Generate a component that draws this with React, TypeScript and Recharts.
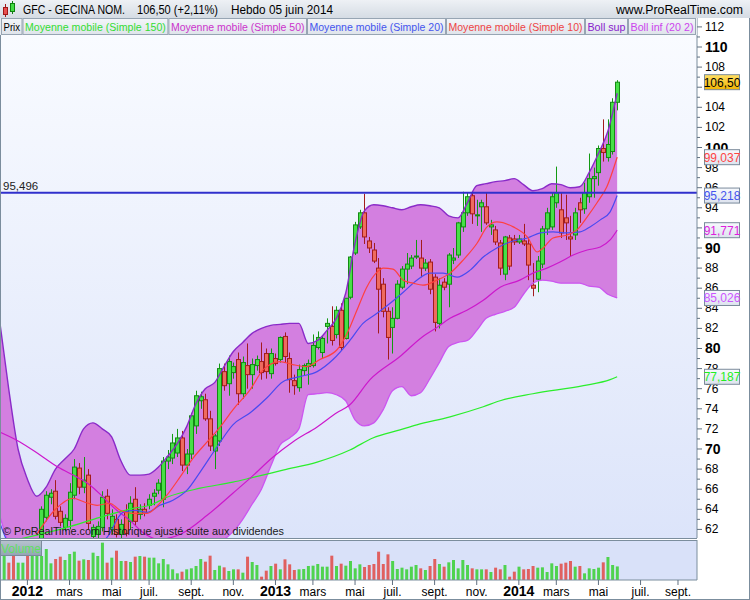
import React from "react";
import { ComposedChart, Bar, Line, Area, XAxis, YAxis, ReferenceLine, Cell } from "recharts";

// week index 0 = semaine du 2 janvier 2012 (hebdo)
const FIRST_WEEK = -5;
const X_DOMAIN: [number, number] = [-5.64, 143.06];
const PRICE_DOMAIN: [number, number] = [61.144, 112.886];

const MONTH_TICKS = [0, 9, 18, 26, 35, 44, 53, 61, 70, 78, 87, 96, 105, 113, 122, 131, 139];
const MONTH_LABELS = ["2012", "mars", "mai", "juil.", "sept.", "nov.", "2013", "mars", "mai", "juil.", "sept.", "nov.", "2014", "mars", "mai", "juil.", "sept."];
const PRICE_TICKS = [61, 62, 63, 64, 65, 66, 67, 68, 69, 70, 71, 72, 73, 74, 75, 76, 77, 78, 79, 80, 81, 82, 83, 84, 85, 86, 87, 88, 89, 90, 91, 92, 93, 94, 95, 96, 97, 98, 99, 100, 101, 102, 103, 104, 105, 106, 107, 108, 109, 110, 111, 112];
// tick labels that sit completely under a value box
const HIDDEN_TICKS = [106, 92];

// last values shown in the boxes on the price axis
const BOX_VALUES = [106.5, 99.037, 95.218, 91.771, 85.026, 77.187];
const BOX_TEXTS = ["106,50", "99,037", "95,218", "91,771", "85,026", "77,187"];
const BOX_COLORS = ["#000000", "#ff4444", "#4455ee", "#dd22dd", "#cc55ff", "#22ee22"];

// [open, high, low, close]
const CANDLES = [
  [59.5, 60.5, 58.6, 60.2], [60.2, 60.6, 58.8, 59.0], [59.0, 59.6, 57.6, 58.0], [58.0, 59.6, 57.6, 59.3],
  [59.3, 60.6, 58.8, 60.2], [60.4, 60.8, 59.2, 59.6], [59.6, 60.8, 59.2, 60.5], [60.3, 60.9, 59.6, 60.6],
  [60.6, 64.3, 60.4, 64.0], [63.2, 65.8, 62.8, 65.4], [65.2, 66.0, 64.5, 65.6], [65.8, 66.9, 63.0, 63.3],
  [63.8, 64.3, 62.3, 62.7], [62.2, 63.5, 61.8, 63.1], [62.9, 66.6, 62.0, 65.7], [65.4, 69.0, 65.0, 68.2],
  [68.1, 68.6, 65.5, 66.2], [66.2, 69.2, 65.6, 66.9], [67.4, 68.0, 62.0, 62.6], [61.3, 62.5, 60.8, 62.2],
  [61.5, 62.8, 61.0, 62.3], [62.2, 65.8, 61.8, 65.2], [65.3, 66.0, 63.0, 63.6], [62.0, 64.0, 61.5, 63.3],
  [63.0, 63.5, 61.2, 61.5], [61.5, 63.0, 61.0, 62.5], [63.8, 64.5, 61.3, 61.6], [62.8, 65.3, 62.0, 64.6],
  [65.0, 66.2, 62.4, 62.8], [63.5, 64.5, 63.0, 64.0], [64.0, 64.6, 63.3, 63.6], [64.4, 65.5, 64.0, 65.0],
  [65.3, 66.0, 64.4, 65.6], [65.9, 67.0, 65.5, 66.6], [65.0, 69.2, 64.2, 68.8], [68.8, 69.9, 68.0, 69.2],
  [69.1, 71.5, 68.5, 70.6], [69.6, 72.0, 69.2, 71.1], [71.1, 71.8, 67.8, 68.4], [68.4, 70.0, 67.5, 69.5],
  [69.5, 73.6, 69.0, 73.3], [72.3, 75.8, 71.5, 75.3], [74.8, 75.7, 74.0, 75.2], [74.9, 75.5, 72.8, 73.0],
  [73.0, 73.8, 69.8, 70.3], [69.8, 71.5, 68.0, 71.3], [70.8, 78.5, 70.3, 78.0], [77.7, 78.5, 75.8, 76.3],
  [76.5, 79.3, 75.3, 78.7], [77.6, 78.6, 77.0, 78.2], [78.9, 79.6, 74.4, 75.5], [75.5, 79.2, 75.0, 78.6],
  [78.3, 80.5, 76.0, 77.4], [77.4, 79.0, 76.0, 78.4], [78.3, 79.3, 77.8, 78.9], [78.7, 80.6, 76.9, 77.6],
  [79.5, 80.0, 77.0, 77.7], [77.5, 80.0, 77.0, 79.5], [79.0, 79.5, 78.3, 78.5], [78.9, 81.2, 78.6, 81.1],
  [81.2, 81.6, 78.6, 79.2], [79.0, 79.6, 75.6, 76.9], [76.8, 77.4, 75.4, 76.3], [76.1, 78.4, 75.7, 77.9],
  [77.8, 78.5, 77.3, 78.3], [78.2, 78.9, 76.4, 78.5], [78.3, 81.4, 78.1, 80.3], [80.1, 81.7, 79.9, 81.1],
  [79.6, 81.3, 79.0, 81.0], [82.2, 83.0, 80.5, 82.5], [82.2, 84.2, 80.3, 80.8], [81.4, 84.2, 81.0, 83.8],
  [83.8, 84.5, 79.8, 80.1], [81.0, 85.0, 80.9, 85.0], [85.1, 89.2, 84.9, 89.1], [89.5, 92.6, 89.3, 92.3],
  [92.1, 93.8, 91.9, 93.5], [93.5, 95.4, 90.4, 91.1], [90.7, 91.1, 89.5, 90.0], [89.8, 90.5, 88.5, 88.7],
  [88.0, 89.0, 81.5, 85.9], [86.4, 87.0, 83.1, 83.7], [83.7, 84.1, 78.9, 81.1], [82.1, 84.1, 79.5, 83.0],
  [83.0, 86.8, 82.9, 86.4], [86.1, 88.2, 85.9, 87.9], [87.9, 89.5, 86.4, 88.4], [88.2, 89.3, 87.9, 89.0],
  [89.1, 90.8, 88.9, 89.2], [89.0, 90.8, 87.1, 88.0], [88.0, 88.9, 87.7, 88.5], [88.6, 88.9, 85.4, 85.9],
  [87.1, 87.4, 81.7, 82.6], [82.5, 87.0, 82.0, 86.3], [86.6, 87.0, 85.8, 86.1], [86.4, 89.5, 84.1, 89.3],
  [88.8, 90.0, 88.4, 89.0], [89.3, 92.6, 89.0, 92.5], [92.1, 95.6, 91.6, 93.5], [93.5, 95.5, 93.2, 95.1],
  [95.2, 95.5, 92.4, 93.4], [93.2, 94.8, 92.2, 93.3], [94.1, 94.8, 91.6, 94.5], [94.1, 95.5, 92.3, 92.5],
  [92.1, 92.8, 91.3, 92.3], [91.8, 92.2, 90.3, 90.6], [90.5, 90.8, 87.3, 88.0], [87.4, 91.2, 86.8, 91.1],
  [91.0, 91.3, 87.8, 88.2], [90.9, 91.3, 90.3, 90.6], [90.6, 91.3, 90.4, 90.9], [90.7, 92.4, 90.2, 90.4],
  [90.4, 91.0, 86.8, 88.3], [86.3, 88.5, 85.2, 86.0], [86.9, 89.2, 85.6, 88.7], [88.4, 92.2, 88.0, 91.9],
  [91.9, 94.0, 91.3, 93.5], [92.1, 95.5, 91.8, 95.1], [94.5, 98.1, 94.0, 95.5], [93.8, 95.5, 91.0, 91.5],
  [93.0, 95.3, 90.8, 92.5], [91.1, 93.2, 89.2, 90.9], [91.3, 94.0, 90.8, 93.5], [94.5, 95.0, 92.5, 93.8],
  [93.9, 96.5, 93.4, 95.5], [95.1, 99.4, 94.5, 96.9], [96.9, 98.0, 95.0, 97.1], [97.5, 100.2, 96.2, 99.9],
  [99.9, 102.8, 98.6, 99.5], [99.0, 102.8, 98.6, 100.3], [99.6, 104.9, 99.3, 104.5], [104.5, 106.7, 103.7, 106.5],
];

const VOLUME = [
  375000, 260000, 360000, 260000, 260000, 385000, 385000, 385000, 360000, 465000,
  250000, 315000, 350000, 300000, 390000, 425000, 290000, 310000, 300000, 410000,
  360000, 560000, 260000, 335000, 440000, 285000, 285000, 270000, 350000, 360000,
  350000, 335000, 335000, 250000, 315000, 235000, 160000, 100000, 125000, 160000,
  175000, 210000, 315000, 275000, 365000, 150000, 215000, 190000, 135000, 160000,
  160000, 110000, 350000, 270000, 225000, 50000, 140000, 210000, 245000, 160000,
  310000, 235000, 150000, 160000, 165000, 210000, 215000, 240000, 200000, 200000,
  365000, 210000, 245000, 215000, 285000, 175000, 235000, 195000, 225000, 240000,
  425000, 240000, 385000, 285000, 165000, 185000, 160000, 200000, 225000, 175000,
  150000, 210000, 315000, 240000, 200000, 265000, 300000, 175000, 300000, 225000,
  175000, 160000, 160000, 160000, 120000, 185000, 160000, 225000, 50000, 125000,
  200000, 160000, 165000, 210000, 185000, 190000, 120000, 250000, 210000, 245000,
  260000, 285000, 200000, 210000, 100000, 175000, 165000, 185000, 265000, 345000,
  225000, 203572,
];
const LAST_VOLUME = 203572;

// Bandes de Bollinger (20, 2)
const BAND_WEEKS = [-6, -4, -2, 0, 2, 4, 6, 8, 10, 12, 14, 16, 18, 20, 22, 24, 26, 28, 30, 32, 34, 36, 38, 40, 42, 44, 46, 48, 50, 52, 54, 56, 58, 60, 62, 64, 66, 68, 70, 72, 74, 76, 78, 80, 82, 84, 86, 88, 90, 92, 94, 96, 98, 100, 102, 104, 106, 108, 110, 112, 114, 116, 118, 120, 122, 124, 126];
const BOLL_SUP = [83, 76.0, 70.0, 67.0, 65.3, 66.2, 68.0, 69.0, 70.0, 72.0, 72.6, 72.0, 71.2, 68.8, 67.4, 67.4, 67.5, 68.2, 69.3, 70.5, 72.2, 74.5, 76.0, 76.6, 78.2, 79.7, 80.6, 81.5, 82.0, 82.3, 82.4, 82.5, 82.5, 80.5, 80.8, 81.8, 83.0, 85.5, 90.5, 93.7, 94.3, 94.2, 94.0, 93.8, 94.1, 94.3, 94.2, 94.0, 93.2, 93.0, 94.5, 96.2, 96.4, 96.6, 96.7, 96.9, 96.3, 95.7, 95.9, 96.4, 96.3, 96.0, 96.1, 97.5, 99.4, 101.6, 105.4];
const BOLL_INF = [63.5, 60.5, 58.0, 57.0, 57.0, 57.5, 58.0, 58.5, 58.5, 58.0, 57.0, 56.5, 56.5, 57.5, 58.5, 59.5, 60.0, 60.5, 60.5, 60.0, 59.5, 59.5, 60.0, 60.5, 61.0, 61.8, 63.0, 64.5, 66.0, 68.3, 70.4, 71.1, 72.0, 75.4, 75.5, 75.6, 75.4, 74.8, 72.9, 72.3, 72.6, 73.9, 75.8, 76.2, 75.3, 75.6, 77.0, 78.6, 80.2, 80.6, 80.8, 81.8, 83.0, 83.4, 83.7, 84.1, 85.4, 86.5, 86.8, 86.7, 86.5, 86.5, 86.5, 86.2, 86.1, 85.4, 85.03];

// moyennes mobiles, [semaine, valeur]
const MA150 = [[-6, 60.6], [8.5, 62.2], [15.5, 63.2], [22.6, 64.1], [26.2, 64.4], [29.8, 65.2], [36.9, 66.1], [43.9, 66.7], [47.6, 67.1], [54.6, 67.9], [61.9, 68.7], [68.9, 69.9], [73.8, 71.1], [79.6, 71.9], [83.2, 72.4], [90.3, 73.2], [97.4, 74.2], [101, 74.8], [108, 75.5], [118.8, 76.3], [124.5, 76.9], [126, 77.187]];
const MA50 = [[-6, 71.7], [-1.6, 70.7], [2.7, 69.4], [6.5, 68.2], [10.6, 67.2], [13.4, 66.4], [16.2, 65.2], [19.1, 63.9], [21.9, 62.9], [24.7, 61.7], [28, 61.0], [33, 61.6], [38.4, 63.4], [43.9, 65.6], [47.6, 67.1], [52.5, 69.2], [56.7, 70.7], [61.9, 72.2], [66.1, 73.6], [68.9, 74.4], [73.2, 76.9], [79.6, 79.2], [84.5, 81.2], [87.5, 82.1], [90.3, 83.0], [93.9, 83.8], [97.4, 84.8], [101, 86.1], [105.2, 86.8], [108, 87.5], [111, 88.0], [113.8, 88.6], [116.6, 89.3], [119.6, 89.8], [122.4, 90.1], [124.5, 90.8], [126, 91.771]];
const MA20 = [[-6, 62.8], [-4.5, 61.0], [-2, 59.8], [6, 59.5], [14, 60.3], [17, 61.2], [20.4, 63.7], [23, 63.9], [25.6, 63.7], [28.3, 64.4], [31.1, 64.9], [34.1, 65.9], [36.9, 67.7], [40.5, 70.2], [43.9, 72.4], [47.6, 73.6], [51.2, 75.1], [54.6, 76.7], [58.2, 77.2], [61.9, 77.7], [65.3, 78.9], [68.9, 80.8], [71.7, 82.5], [74.7, 83.5], [77.5, 84.5], [80.3, 85.6], [83.2, 86.8], [86, 87.5], [88.8, 87.5], [91.8, 87.1], [94.6, 87.8], [97.4, 89.1], [100.3, 90.0], [103.1, 90.6], [106.8, 91.0], [109.6, 91.5], [112.3, 91.6], [115.3, 91.5], [118.1, 91.6], [120.2, 92.1], [122.4, 92.8], [124.5, 93.6], [126, 95.218]];
const MA10 = [[2, 61.5], [6, 64.0], [9.7, 65.1], [12.3, 64.7], [14.9, 64.4], [17.6, 64.6], [19.8, 63.9], [22.4, 63.6], [25.6, 63.6], [27.9, 64.4], [29.8, 65.4], [32.6, 67.2], [35.4, 69.1], [38.4, 70.7], [41.2, 72.2], [43.9, 73.9], [47.6, 75.9], [50.4, 77.9], [54, 78.7], [56.7, 78.4], [59.7, 78.2], [62.5, 78.9], [66.2, 79.9], [68.3, 81.5], [70.4, 83.8], [72.5, 86.1], [74.7, 87.6], [76, 88.0], [78.1, 87.9], [80.3, 86.8], [82.4, 86.5], [84.5, 86.3], [87.5, 86.8], [90.3, 87.5], [93.1, 88.8], [96.1, 90.5], [98.2, 92.1], [100.3, 92.6], [103.8, 92.1], [106.8, 91.1], [108.9, 89.6], [110.2, 90.0], [112.3, 91.0], [115.3, 91.3], [117.4, 91.8], [119.6, 93.1], [121.7, 94.5], [123.8, 96.1], [126, 99.037]];

const RESISTANCE = 95.496;

const FONT = '"Liberation Sans", Arial, sans-serif';
const AXIS = "#7b8d9d";

const candleData = CANDLES.map(([open, high, low, close], k) => ({
  week: FIRST_WEEK + k,
  open, high, low, close,
  span: [low, high],
  volume: VOLUME[k],
  up: close >= open,
}));

const bandData = BAND_WEEKS.map((week, k) => ({
  week,
  sup: BOLL_SUP[k],
  inf: BOLL_INF[k],
  band: [BOLL_INF[k], BOLL_SUP[k]],
}));

const pts = (pairs: number[][]) => pairs.map(([week, v]) => ({ week, v }));

const Candle = (props: any) => {
  const { x, y, width, height, payload } = props;
  if (!payload || x == null || y == null) return null;
  const { open, high, low, close, up } = payload;
  const top = height < 0 ? y + height : y;
  const h = Math.abs(height || 0);
  const span = high - low || 1;
  const py = (v: number) => top + ((high - v) / span) * h;
  const cx = Math.round(x + (width || 0) / 2) + 0.5;
  const b1 = py(Math.max(open, close));
  const b2 = py(Math.min(open, close));
  const edge = up ? "#148a14" : "#a31c1c";
  return (
    <g>
      <line x1={cx} x2={cx} y1={top} y2={top + h} stroke={up ? "#139a13" : "#a31c1c"} strokeWidth={1} />
      <rect x={cx - 2} y={b1} width={4} height={Math.max(1, b2 - b1)} fill={up ? "#47e047" : "#ef6b5f"} stroke={edge} strokeWidth={1} />
    </g>
  );
};

const PriceTick = (props: any) => {
  const { x, y, payload } = props;
  const v = payload.value;
  if (v % 2 !== 0) return <line x1={x} x2={x + 3} y1={y} y2={y} stroke="#607080" />;
  const major = v % 10 === 0;
  return (
    <g>
      <line x1={x} x2={x + 5} y1={y} y2={y} stroke="#607080" />
      {!HIDDEN_TICKS.includes(v) && (
        <text x={x + 8} y={y + (major ? 5 : 4)} fontSize={major ? 14 : 12} fontWeight={major ? 700 : 400} fill="#000" fontFamily={FONT}>{v}</text>
      )}
    </g>
  );
};

// drawn by a second, narrow price axis so the boxes sit above the tick labels
const BoxTick = (props: any) => {
  const { x, y, payload, index } = props;
  const k = BOX_VALUES.indexOf(payload.value);
  const i = k >= 0 ? k : index;
  const bx = x - 45;
  const gold = i === 0;
  return (
    <g>
      <rect x={bx + 0.5} y={y - 7.5} width={35} height={15} fill={gold ? "url(#gold)" : "url(#box)"} stroke="#7b8b9b" />
      <text x={bx + 18} y={y + 4.5} textAnchor="middle" fontSize={12} fill={BOX_COLORS[i]} fontFamily={FONT}>{BOX_TEXTS[i]}</text>
    </g>
  );
};

const VolumeTick = (props: any) => {
  const { x, y } = props;
  return (
    <g>
      <line x1={x} x2={x + 5} y1={y} y2={y} stroke="#607080" />
      <text x={x + 8} y={y + 4} fontSize={12} fill="#000" fontFamily={FONT}>500 000</text>
    </g>
  );
};

const VolumeBoxTick = (props: any) => {
  const { x, y } = props;
  const bx = x - 45;
  return (
    <g>
      <rect x={bx + 0.5} y={y - 7.5} width={40} height={15} fill="url(#box)" stroke="#7b8b9b" />
      <text x={bx + 20.5} y={y + 4.5} textAnchor="middle" fontSize={12} fill="#4ddd4d" fontFamily={FONT}>203 572</text>
    </g>
  );
};

const MonthTick = (props: any) => {
  const { x, y, payload } = props;
  const label = MONTH_LABELS[MONTH_TICKS.indexOf(payload.value)] ?? "";
  const year = /^\d{4}$/.test(label);
  return (
    <g>
      <line x1={x} x2={x} y1={y} y2={y + 5} stroke="#607080" />
      <text x={x} y={y + 16} textAnchor="middle" fontSize={year ? 14 : 12} fontWeight={year ? 700 : 400} fill="#000" fontFamily={FONT}>{label}</text>
    </g>
  );
};

const LevelLabel = (props: any) => {
  const { viewBox } = props;
  if (!viewBox) return null;
  return <text x={viewBox.x + 2} y={viewBox.y - 3} fontSize={11.5} fill="#222" fontFamily={FONT}>95,496</text>;
};

const LEGEND = [
  { x0: 1, x1: 22.5, text: "Prix", color: "#000" },
  { x0: 22.5, x1: 168.4, text: "Moyenne mobile (Simple 150)", color: "#33dd33" },
  { x0: 168.4, x1: 307, text: "Moyenne mobile (Simple 50)", color: "#cc33cc" },
  { x0: 307, x1: 446, text: "Moyenne mobile (Simple 20)", color: "#4455ee" },
  { x0: 446, x1: 585, text: "Moyenne mobile (Simple 10)", color: "#ee4444" },
  { x0: 585, x1: 628, text: "Boll sup", color: "#8822cc" },
  { x0: 628, x1: 696, text: "Boll inf (20 2)", color: "#cc44ee" },
];

const lineProps = { type: "monotone" as const, dataKey: "v", dot: false, activeDot: false, isAnimationActive: false, strokeWidth: 1.2 };

const Gradients = () => (
  <defs>
    <linearGradient id="gold" x1="0" y1="0" x2="0" y2="1">
      <stop offset="0" stopColor="#ffe066" />
      <stop offset="1" stopColor="#f0b400" />
    </linearGradient>
    <linearGradient id="box" x1="0" y1="0" x2="0" y2="1">
      <stop offset="0" stopColor="#f7f9fd" />
      <stop offset="1" stopColor="#dde3ee" />
    </linearGradient>
  </defs>
);

export default function App() {
  return (
    <div style={{ position: "absolute", left: 0, top: 0, width: 750, height: 600, background: "#fff", overflow: "hidden", fontFamily: FONT }}>
      <div style={{ position: "absolute", left: 1, top: 35, width: 696, height: 503, background: "linear-gradient(#f9fbff, #dce4fa)" }} />
      <div style={{ position: "absolute", left: 1, top: 540, width: 696, height: 40, background: "#d9e1f9" }} />

      <div style={{ position: "absolute", left: 0, top: 18 }}>
        <ComposedChart width={750} height={520} data={candleData} margin={{ top: 0, right: 0, bottom: 0, left: 1 }}>
          <Gradients />
          <XAxis dataKey="week" type="number" domain={X_DOMAIN} allowDataOverflow hide />
          <YAxis orientation="right" width={52} domain={PRICE_DOMAIN} allowDataOverflow ticks={PRICE_TICKS} interval={0}
            tick={<PriceTick />} tickLine={false} tickSize={0} tickMargin={0} axisLine={{ stroke: AXIS }} />
          <YAxis yAxisId="box" orientation="right" width={1} domain={PRICE_DOMAIN} allowDataOverflow ticks={BOX_VALUES} interval={0}
            tick={<BoxTick />} tickLine={false} tickSize={0} tickMargin={0} axisLine={false} />
          <Area data={bandData} dataKey="band" type="monotone" fill="#d37fe0" fillOpacity={1} stroke="none" isAnimationActive={false} activeDot={false} />
          <Line data={bandData} dataKey="sup" type="monotone" stroke="#8a2bc8" strokeWidth={1.4} dot={false} activeDot={false} isAnimationActive={false} />
          <Line data={bandData} dataKey="inf" type="monotone" stroke="#cc55f0" strokeWidth={1.3} dot={false} activeDot={false} isAnimationActive={false} />
          <Line data={pts(MA150)} stroke="#2bee2b" {...lineProps} />
          <Line data={pts(MA50)} stroke="#cc18cc" {...lineProps} />
          <Line data={pts(MA20)} stroke="#4a4af0" {...lineProps} />
          <Line data={pts(MA10)} stroke="#ff4040" {...lineProps} />
          <ReferenceLine y={RESISTANCE} stroke="#3030cc" strokeWidth={2} label={<LevelLabel />} />
          <Bar dataKey="span" barSize={5} shape={<Candle />} isAnimationActive={false} />
        </ComposedChart>
      </div>

      <div style={{ position: "absolute", left: 0, top: 540 }}>
        <ComposedChart width={750} height={60} data={candleData} margin={{ top: 0, right: 0, bottom: 0, left: 1 }}>
          <Gradients />
          <XAxis dataKey="week" type="number" domain={X_DOMAIN} allowDataOverflow ticks={MONTH_TICKS} interval={0}
            tick={<MonthTick />} tickLine={false} tickSize={0} tickMargin={0} height={20} axisLine={{ stroke: AXIS }} />
          <YAxis orientation="right" width={52} domain={[0, 600000]} ticks={[500000]} tick={<VolumeTick />}
            tickLine={false} tickSize={0} tickMargin={0} axisLine={{ stroke: AXIS }} />
          <YAxis yAxisId="box" orientation="right" width={1} domain={[0, 600000]} ticks={[LAST_VOLUME]} tick={<VolumeBoxTick />}
            tickLine={false} tickSize={0} tickMargin={0} axisLine={false} />
          <Bar dataKey="volume" barSize={3} isAnimationActive={false}>
            {candleData.map((d, k) => <Cell key={k} fill={d.up ? "#4fd34f" : "#e06060"} />)}
          </Bar>
        </ComposedChart>
      </div>

      <svg width={750} height={600} style={{ position: "absolute", left: 0, top: 0, pointerEvents: "none" }}>
        <defs>
          <linearGradient id="tb" x1="0" y1="0" x2="0" y2="1">
            <stop offset="0" stopColor="#eef1f5" />
            <stop offset="1" stopColor="#d5dce4" />
          </linearGradient>
          <linearGradient id="lg" x1="0" y1="0" x2="0" y2="1">
            <stop offset="0" stopColor="#f3f5f9" />
            <stop offset="1" stopColor="#dfe4eb" />
          </linearGradient>
          <linearGradient id="vb" x1="0" y1="0" x2="0" y2="1">
            <stop offset="0" stopColor="#b7c3cf" />
            <stop offset="1" stopColor="#93a4b4" />
          </linearGradient>
        </defs>
        <rect x={0} y={0} width={750} height={18} fill="url(#tb)" />
        <line x1={5.5} x2={5.5} y1={4} y2={17} stroke="#a01818" />
        <rect x={3.5} y={7.5} width={4} height={7} fill="#e85050" stroke="#a01818" />
        <line x1={12.5} x2={12.5} y1={1} y2={14} stroke="#108010" />
        <rect x={10.5} y={3.5} width={4} height={8} fill="#44dd44" stroke="#108010" />
        <text x={23} y={14} fontSize={12.5} fill="#000" textLength={102} lengthAdjust="spacingAndGlyphs">GFC - GECINA NOM.</text>
        <text x={137} y={14} fontSize={12.5} fill="#000" textLength={81} lengthAdjust="spacingAndGlyphs">106,50 (+2,11%)</text>
        <text x={231} y={14} fontSize={12.5} fill="#000" textLength={102} lengthAdjust="spacingAndGlyphs">Hebdo  05 juin 2014</text>
        <text x={616} y={14} fontSize={12.5} fill="#000" textLength={127} lengthAdjust="spacingAndGlyphs">www.ProRealTime.com</text>

        <rect x={0} y={18} width={697} height={17} fill="#e9edf2" />
        {LEGEND.map((l) => (
          <g key={l.text}>
            <rect x={l.x0 + 0.5} y={18.5} width={l.x1 - l.x0 - 1} height={16} fill="url(#lg)" stroke="#97a5b3" />
            <text x={(l.x0 + l.x1) / 2} y={31} fontSize={11.5} textAnchor="middle" fill={l.color}
              textLength={l.x1 - l.x0 - 5} lengthAdjust="spacingAndGlyphs">{l.text}</text>
          </g>
        ))}

        <text x={3} y={535} fontSize={11.5} fill="#1a1a1a" textLength={281} lengthAdjust="spacingAndGlyphs">© ProRealTime.com Historique ajusté suite aux dividendes</text>

        <rect x={0.5} y={540.5} width={41} height={15} fill="url(#vb)" stroke="#7b8b9b" />
        <text x={21} y={552.5} fontSize={12} textAnchor="middle" fill="#5fe05f">Volume</text>

        <line x1={0} x2={697} y1={538.5} y2={538.5} stroke={AXIS} />
        <line x1={0} x2={697} y1={540.5} y2={540.5} stroke={AXIS} />
        <line x1={0.5} x2={0.5} y1={35} y2={600} stroke={AXIS} />
        <line x1={0} x2={750} y1={599.5} y2={599.5} stroke={AXIS} />
        <line x1={749.5} x2={749.5} y1={18} y2={600} stroke={AXIS} />
      </svg>
    </div>
  );
}
